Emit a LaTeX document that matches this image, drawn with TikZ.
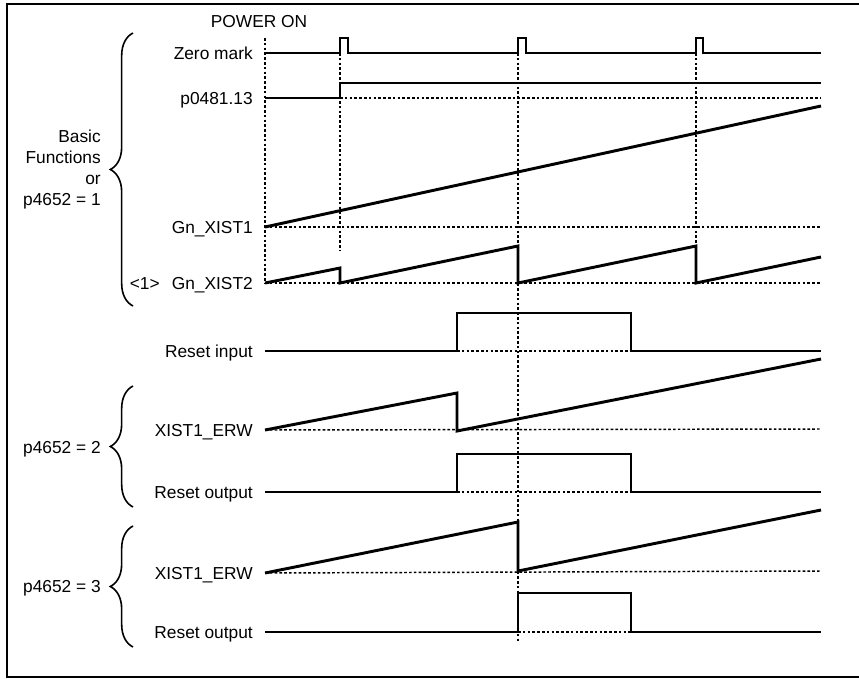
\documentclass[tikz,border=0pt]{standalone}
\usepackage{fontspec}
\setmainfont{Liberation Sans}
\usetikzlibrary{decorations.pathreplacing}

\begin{document}
\begin{tikzpicture}[
x=0.75pt,y=-0.75pt,
every node/.style={font=\fontsize{13}{15.75}\selectfont, inner sep=0pt},
lbl/.style={anchor=east, text height=9.3pt, text depth=0pt},
sig/.style={line width=2.2pt, line join=miter},
thinsig/.style={line width=1.1pt},
grid/.style={line width=1.1pt, dash pattern=on 2pt off 1.6pt},
brc/.style={decorate, decoration={brace, amplitude=17pt}, line width=1.2pt}
]
\useasboundingbox (0,0) rectangle (859,678);
\draw[line width=1.5pt] (7,4) rectangle (880,677);

% time markers
\draw[grid] (265,38) -- (265,283);
\draw[grid] (340,53) -- (340,251);
\draw[grid] (518,53) -- (518,643);
\draw[grid] (696,53) -- (696,283);
% zero levels
\draw[grid] (340,98) -- (821,98);
\draw[grid] (265,227) -- (821,227);
\draw[grid] (265,283) -- (821,283);
\draw[grid] (457,351) -- (631,351);
\draw[grid] (265,430) -- (821,429);
\draw[grid] (457,492) -- (631,492);
\draw[grid] (265,573) -- (821,571);
\draw[grid] (518,632) -- (631,632);

% signals
\draw[thinsig] (265,53) -- (340,53) -- (340,38) -- (348,38) -- (348,53) -- (518,53) -- (518,38) -- (526,38) -- (526,53)
 -- (696,53) -- (696,38) -- (703,38) -- (703,53) -- (821,53);
\draw[sig] (265,98) -- (340,98) -- (340,83) -- (821,83);
\draw[sig] (265,227) -- (821,106);
\draw[sig] (265,283) -- (340,268) -- (340,283) -- (518,246) -- (518,283) -- (696,246) -- (696,283) -- (821,257);
\draw[sig] (265,351) -- (457,351) -- (457,313) -- (631,313) -- (631,351) -- (821,351);
\draw[sig] (265,430) -- (457,393) -- (457,431) -- (821,359);
\draw[sig] (265,492) -- (457,492) -- (457,454) -- (631,454) -- (631,492) -- (821,492);
\draw[sig] (265,573) -- (518,522) -- (518,571) -- (821,510);
\draw[sig] (265,632) -- (518,632) -- (518,593) -- (631,593) -- (631,632) -- (821,632);

% labels
\node (pon) at (259,22) {POWER ON};
\node[lbl] (zero) at (253,53) {Zero mark};
\node[lbl] (p0481) at (253,98) {p0481.13};
\node[lbl] (xist1) at (253,227) {Gn\_XIST1};
\node[lbl] (xist2) at (253,283) {Gn\_XIST2};
\node[lbl] (note) at (160,283) {<1>};
\node[lbl] (rin) at (253,351) {Reset input};
\node[lbl] (erwa) at (253,430) {XIST1\_ERW};
\node[lbl] (routa) at (253,492) {Reset output};
\node[lbl] (erwb) at (253,573) {XIST1\_ERW};
\node[lbl] (routb) at (253,632) {Reset output};

% braces
\draw[brc] (133,306) -- (133,33);
\draw[brc] (133,507) -- (133,386);
\draw[brc] (133,647) -- (133,526);
\node[anchor=east, align=right] (basic) at (101,170) {Basic\\Functions\\or\\p4652 = 1};
\node[lbl] (mode2) at (101,447) {p4652 = 2};
\node[lbl] (mode3) at (101,586) {p4652 = 3};
\end{tikzpicture}
\end{document}
